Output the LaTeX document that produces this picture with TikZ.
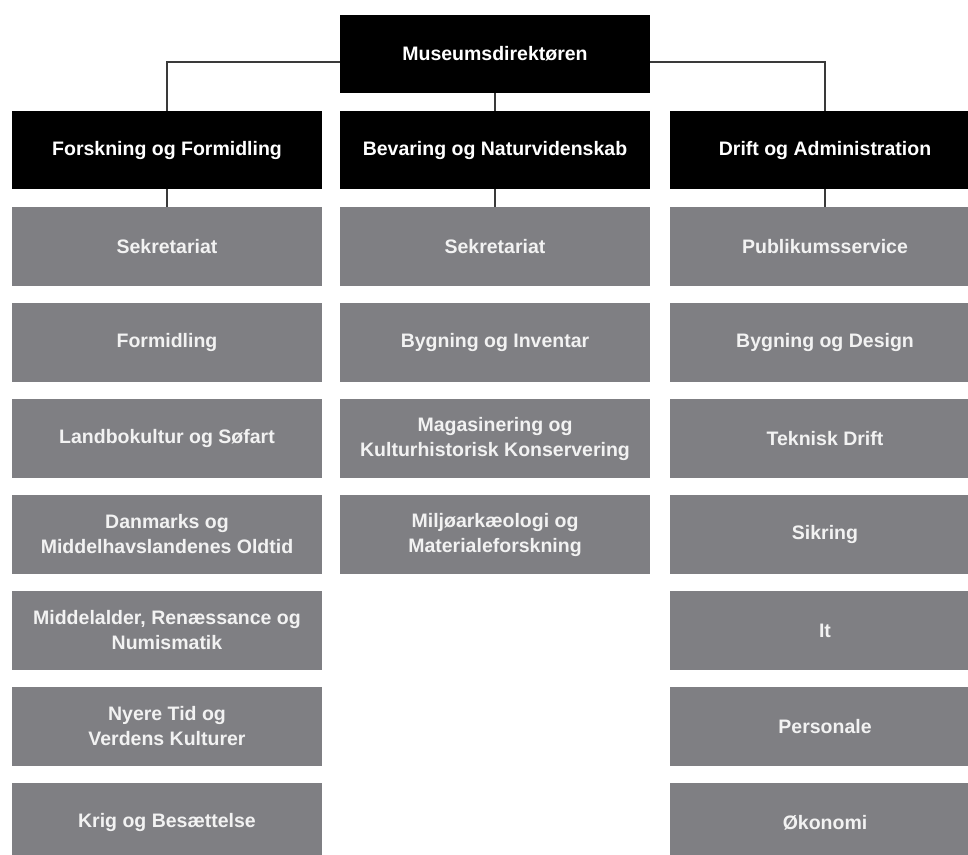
\documentclass[tikz,border=0pt]{standalone}
\usepackage{fontspec}
\setmainfont{Liberation Sans}
\definecolor{boxgray}{HTML}{7F7F83}
\definecolor{txtlight}{HTML}{F2F2F2}
\definecolor{linegray}{HTML}{3A3A3A}
\begin{document}
\begin{tikzpicture}[x=1pt,y=-1pt,
  base/.style={rectangle, inner sep=0pt, minimum width=310pt, minimum height=78pt, align=center,
    font=\fontsize{19.5}{25}\selectfont\bfseries},
  blackbox/.style={base, fill=black, text=white},
  graybox/.style={base, fill=boxgray, text=txtlight, minimum height=79pt},
  conn/.style={draw=linegray, line width=1.3pt}]
\useasboundingbox (0,0) rectangle (968,854);
\node[blackbox] (top) at (495,54) {Museumsdirektøren};
\node[blackbox] (c1) at (167,150) {Forskning og Formidling};
\node[blackbox] (c2) at (495,150) {Bevaring og Naturvidenskab};
\node[blackbox] (c3) at (825,150) {Drift og Administration};
% column 1
\node[graybox] (a1) at (167,246.5) {Sekretariat};
\node[graybox] (a2) at (167,342.5) {Formidling};
\node[graybox] (a3) at (167,438.5) {Landbokultur og Søfart};
\node[graybox] (a4) at (167,534.5) {Danmarks og\\Middelhavslandenes Oldtid};
\node[graybox] (a5) at (167,630.5) {Middelalder, Renæssance og\\Numismatik};
\node[graybox] (a6) at (167,726.5) {Nyere Tid og\\Verdens Kulturer};
\node[graybox] (a7) at (167,822.5) {Krig og Besættelse};
% column 2
\node[graybox] (b1) at (495,246.5) {Sekretariat};
\node[graybox] (b2) at (495,342.5) {Bygning og Inventar};
\node[graybox] (b3) at (495,438.5) {Magasinering og\\Kulturhistorisk Konservering};
\node[graybox] (b4) at (495,534.5) {Miljøarkæologi og\\Materialeforskning};
% column 3
\node[graybox] (d1) at (825,246.5) {Publikumsservice};
\node[graybox] (d2) at (825,342.5) {Bygning og Design};
\node[graybox] (d3) at (825,438.5) {Teknisk Drift};
\node[graybox] (d4) at (825,534.5) {Sikring};
\node[graybox] (d5) at (825,630.5) {It};
\node[graybox] (d6) at (825,726.5) {Personale};
\node[graybox] (d7) at (825,822.5) {Økonomi};
% connectors
\draw[conn] ([yshift=-8pt]top.west) -| (c1.north);
\draw[conn] ([yshift=-8pt]top.east) -| (c3.north);
\draw[conn] (top.south) -- (c2.north);
\draw[conn] (c1.south) -- (a1.north);
\draw[conn] (c2.south) -- (b1.north);
\draw[conn] (c3.south) -- (d1.north);
\end{tikzpicture}
\end{document}
